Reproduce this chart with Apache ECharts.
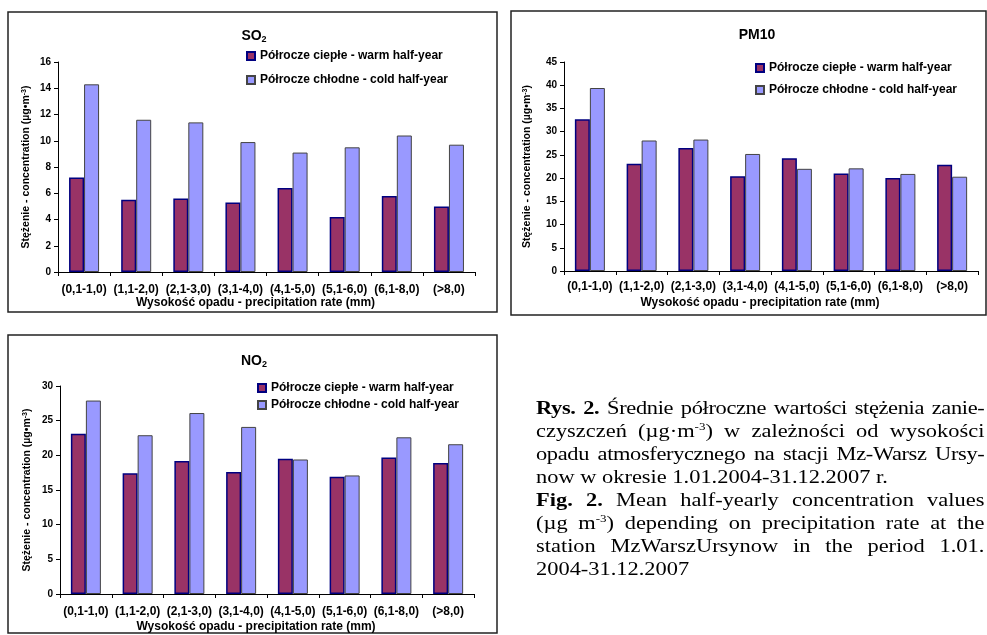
<!DOCTYPE html>
<html>
<head>
<meta charset="utf-8">
<script src="https://cdn.jsdelivr.net/npm/echarts@6/dist/echarts.min.js"></script>
<style>
  html, body { margin: 0; padding: 0; background: #fff; }
  #chart { position: absolute; left: 0; top: 0; width: 987px; height: 635px; }
  #caption {
    position: absolute; left: 536px; top: 396px; width: 380px;
    font-family: "Liberation Serif", "Times New Roman", serif; font-size: 19px; line-height: 23px;
    color: #000; transform: scaleX(1.18); transform-origin: 0 0;
  }
  #caption .ln { white-space: nowrap; text-align: justify; text-align-last: justify; }
  #caption .tight { letter-spacing: -0.3px; }
  #caption .left { text-align: left; text-align-last: left; }
  #caption sup { font-size: 11px; line-height: 0; vertical-align: 7px; }
</style>
</head>
<body>
<div id="chart"></div>
<div id="caption">
  <div class="ln tight"><b>Rys. 2.</b> Średnie półroczne wartości stężenia zanie-</div>
  <div class="ln">czyszczeń (µg·m<sup>-3</sup>) w zależności od wysokości</div>
  <div class="ln tight">opadu atmosferycznego na stacji Mz-Warsz Ursy-</div>
  <div class="ln" style="width:294px">now w okresie 1.01.2004-31.12.2007 r.</div>
  <div class="ln"><b>Fig. 2.</b> Mean half-yearly concentration values</div>
  <div class="ln">(µg m<sup>-3</sup>) depending on precipitation rate at the</div>
  <div class="ln">station MzWarszUrsynow in the period 1.01.</div>
  <div class="ln left">2004-31.12.2007</div>
</div>
<script>
'use strict'

var categories = ['(0,1-1,0)', '(1,1-2,0)', '(2,1-3,0)', '(3,1-4,0)', '(4,1-5,0)', '(5,1-6,0)', '(6,1-8,0)', '(>8,0)'];
var warmName = 'Półrocze ciepłe - warm half-year';
var coldName = 'Półrocze chłodne - cold half-year';

var so2Warm = [7.2, 5.5, 5.6, 5.3, 6.4, 4.2, 5.8, 5.0];
var so2Cold = [14.3, 11.6, 11.4, 9.9, 9.1, 9.5, 10.4, 9.7];
var pm10Warm = [32.7, 23.1, 26.5, 20.4, 24.3, 21.0, 20.0, 22.9];
var pm10Cold = [39.4, 28.1, 28.3, 25.2, 22.0, 22.1, 20.9, 20.3];
var no2Warm = [23.1, 17.4, 19.2, 17.6, 19.5, 16.9, 19.7, 18.9];
var no2Cold = [27.9, 22.9, 26.1, 24.1, 19.4, 17.1, 22.6, 21.6];

// y scale per panel: [max, interval]
var so2Ticks = [16, 2];
var pm10Ticks = [45, 5];
var no2Ticks = [30, 5];

var font = '"Liberation Sans", Arial, sans-serif';
var yName = 'Stężenie - concentration (µg•m{sup|-3})';
var xName = 'Wysokość opadu - precipitation rate (mm)';

var chart = echarts.init(document.getElementById('chart'));

function xAxisFor(i, margin, gap) {
  return {
    type: 'category', gridIndex: i, data: categories,
    axisLine: { lineStyle: { color: '#000', width: 1 } },
    axisTick: { show: true, length: 4, lineStyle: { color: '#000' } },
    axisLabel: { interval: 0, margin: margin, color: '#000', fontFamily: font, fontWeight: 'bold', fontSize: 12 },
    name: xName, nameLocation: 'middle', nameGap: gap,
    nameTextStyle: { color: '#000', fontFamily: font, fontWeight: 'bold', fontSize: 12, padding: [0, 22, 0, 0] }
  };
}

function yAxisFor(i, ticks, gap) {
  return {
    type: 'value', gridIndex: i, min: 0, max: ticks[0], interval: ticks[1],
    splitLine: { show: false },
    axisLine: { show: true, lineStyle: { color: '#000', width: 1 } },
    axisTick: { show: true, length: 4, lineStyle: { color: '#000' } },
    axisLabel: { margin: 7, color: '#000', fontFamily: font, fontWeight: 'bold', fontSize: 10 },
    name: yName, nameLocation: 'middle', nameGap: gap, nameRotate: 90,
    nameTextStyle: {
      color: '#000', fontFamily: font, fontWeight: 'bold', fontSize: 10.5,
      rich: { sup: { fontSize: 7, fontFamily: font, fontWeight: 'bold', color: '#000', verticalAlign: 'top', lineHeight: 10 } }
    }
  };
}

function barsFor(i, warm, cold) {
  return [
    {
      name: warmName, type: 'bar', xAxisIndex: i, yAxisIndex: i, data: warm,
      barWidth: 15, barGap: '0%',
      itemStyle: { color: '#993366', borderColor: '#000080', borderWidth: 1.5 }
    },
    {
      name: coldName, type: 'bar', xAxisIndex: i, yAxisIndex: i, data: cold,
      barWidth: 15, barGap: '0%',
      itemStyle: { color: '#9999ff', borderColor: '#444', borderWidth: 1 }
    }
  ];
}

// legend padding is 5px, so left/top are given 5px before the first icon
function legendFor(left, top, gap) {
  return {
    data: [warmName, coldName], orient: 'vertical', left: left, top: top,
    itemWidth: 8, itemHeight: 8, itemGap: gap, icon: 'rect', selectedMode: false,
    textStyle: { color: '#000', fontFamily: font, fontWeight: 'bold', fontSize: 12 }
  };
}

function titleText(x, y, main, sub) {
  return {
    type: 'text', x: x, y: y,
    style: {
      text: '{t|' + main + '}' + (sub ? '{s|' + sub + '}' : ''),
      textAlign: 'center', textVerticalAlign: 'middle',
      rich: {
        t: { fontFamily: font, fontWeight: 'bold', fontSize: 14, fill: '#000', lineHeight: 16 },
        s: { fontFamily: font, fontWeight: 'bold', fontSize: 9, fill: '#000', verticalAlign: 'bottom', lineHeight: 16, padding: [6, 0, 0, 0] }
      }
    }
  };
}

function frame(x, y, w, h) {
  return { type: 'rect', shape: { x: x, y: y, width: w, height: h }, style: { fill: 'none', stroke: '#222', lineWidth: 1.5 }, z: -1 };
}

var option = {
  animation: false,
  grid: [
    { left: 58, top: 62, width: 417, height: 210 },
    { left: 564, top: 62, width: 414, height: 209 },
    { left: 60, top: 386, width: 414, height: 208 }
  ],
  xAxis: [xAxisFor(0, 12, 25), xAxisFor(1, 10, 26), xAxisFor(2, 12, 27)],
  yAxis: [yAxisFor(0, so2Ticks, 26), yAxisFor(1, pm10Ticks, 31), yAxisFor(2, no2Ticks, 27)],
  legend: [legendFor(241, 45, 12), legendFor(750, 57, 10), legendFor(252, 377, 5)],
  series: [].concat(barsFor(0, so2Warm, so2Cold), barsFor(1, pm10Warm, pm10Cold), barsFor(2, no2Warm, no2Cold)),
  graphic: [
    frame(8, 12, 489, 300),
    frame(511, 11, 475, 304),
    frame(8, 335, 489, 298),
    titleText(254, 36, 'SO', '2'),
    titleText(757, 35, 'PM10'),
    titleText(254, 361, 'NO', '2')
  ]
};

chart.setOption(option);
</script>
</body>
</html>
